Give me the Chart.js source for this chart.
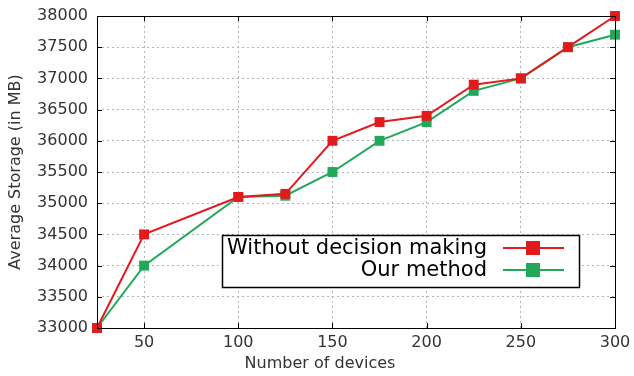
<!DOCTYPE html>
<html>
<head>
<meta charset="utf-8">
<script src="https://cdn.jsdelivr.net/npm/chart.js@4/dist/chart.umd.min.js"></script>
<style>
  html, body { margin: 0; padding: 0; background: #fff; }
  #wrap { width: 634px; height: 376px; position: relative; }
</style>
</head>
<body>
<div id="wrap"><canvas id="c" width="634" height="376"></canvas></div>
<script>
// Number of devices on the x axis
const devices = [25, 50, 100, 125, 150, 175, 200, 225, 250, 275, 300];
// Average storage (MB) per approach
const withoutDecision = [33000, 34500, 35100, 35150, 36000, 36300, 36400, 36900, 37000, 37500, 38000];
const ourMethod = [33000, 34000, 35100, 35120, 35500, 36000, 36300, 36800, 37000, 37500, 37700];
// Tick values
const xTicks = [50, 100, 150, 200, 250, 300];
const yTicks = [33000, 33500, 34000, 34500, 35000, 35500, 36000, 36500, 37000, 37500, 38000];

const seriesNames = ['Without decision making', 'Our method'];
const xTitle = 'Number of devices';
const yTitle = 'Average Storage (in MB)';
const RED = '#e31a1c';
const GREEN = '#22a85a';
const FONT = 'DejaVu Sans';

function toPoints(xs, ys) { return xs.map((x, i) => ({ x: x, y: ys[i] })); }

// Border box, inward tick marks, x title and boxed legend in gnuplot style
const frame = {
  id: 'frame',
  afterDraw(chart) {
    const ctx = chart.ctx;
    const a = chart.chartArea;
    const xs = chart.scales.x, ys = chart.scales.y;
    ctx.save();
    ctx.strokeStyle = '#000';
    ctx.lineWidth = 1;
    ctx.strokeRect(Math.round(a.left) + 0.5, Math.round(a.top) + 0.5,
                   Math.round(a.right - a.left), Math.round(a.bottom - a.top));
    const tl = 5;
    ctx.beginPath();
    xTicks.forEach(v => {
      const px = Math.round(xs.getPixelForValue(v)) + 0.5;
      ctx.moveTo(px, a.bottom); ctx.lineTo(px, a.bottom - tl);
      ctx.moveTo(px, a.top); ctx.lineTo(px, a.top + tl);
    });
    yTicks.forEach(v => {
      const py = Math.round(ys.getPixelForValue(v)) + 0.5;
      ctx.moveTo(a.left, py); ctx.lineTo(a.left + tl, py);
      ctx.moveTo(a.right, py); ctx.lineTo(a.right - tl, py);
    });
    ctx.stroke();

    // x axis title, centred on the page width
    ctx.font = '16px "' + FONT + '"';
    ctx.fillStyle = '#333';
    ctx.textAlign = 'center';
    ctx.textBaseline = 'middle';
    ctx.fillText(xTitle, chart.width / 2 + 3, 364);

    // legend box
    const bx = 222, by = 235, bw = 357, bh = 52;
    ctx.fillStyle = '#fff';
    ctx.fillRect(bx, by, bw, bh);
    ctx.strokeStyle = '#000';
    ctx.lineWidth = 1.5;
    ctx.strokeRect(bx + 0.5, by + 0.5, bw, bh);
    const colors = [RED, GREEN];
    const rows = [by + 13, by + 35];
    ctx.font = '21px "' + FONT + '"';
    ctx.textAlign = 'right';
    ctx.textBaseline = 'middle';
    seriesNames.forEach((name, i) => {
      const y = rows[i];
      ctx.fillStyle = '#000';
      ctx.fillText(name, bx + 265, y + 1);
      ctx.strokeStyle = colors[i];
      ctx.lineWidth = 2;
      ctx.beginPath();
      ctx.moveTo(bx + 281, y); ctx.lineTo(bx + 342, y);
      ctx.stroke();
      ctx.fillStyle = colors[i];
      ctx.fillRect(bx + 311 - 7, y - 7, 14, 14);
    });
    ctx.restore();
  }
};

const gridStyle = { color: '#b4b4b4', drawTicks: false, lineWidth: 1 };
const borderStyle = { display: false, dash: [2, 3] };

new Chart(document.getElementById('c'), {
  type: 'line',
  data: {
    datasets: [
      {
        label: seriesNames[0],
        data: toPoints(devices, withoutDecision),
        borderColor: RED, backgroundColor: RED,
        borderWidth: 2, pointStyle: 'rect', pointRadius: 7,
        pointBorderWidth: 0, tension: 0, clip: false
      },
      {
        label: seriesNames[1],
        data: toPoints(devices, ourMethod),
        borderColor: GREEN, backgroundColor: GREEN,
        borderWidth: 2, pointStyle: 'rect', pointRadius: 7,
        pointBorderWidth: 0, tension: 0, clip: false
      }
    ]
  },
  options: {
    responsive: false,
    animation: false,
    events: [],
    layout: { padding: { left: 0, right: 19, top: 16, bottom: 0 } },
    plugins: { legend: { display: false }, tooltip: { enabled: false } },
    scales: {
      x: {
        type: 'linear',
        min: 25, max: 300,
        afterBuildTicks(s) { s.ticks = xTicks.map(v => ({ value: v })); },
        afterFit(s) { s.height = 48; s.paddingLeft = 0; s.paddingRight = 0; },
        border: borderStyle,
        grid: gridStyle,
        ticks: { color: '#333', font: { family: FONT, size: 16 }, padding: 5, maxRotation: 0,
                 callback: v => String(v) },
        title: { display: false }
      },
      y: {
        min: 33000, max: 38000,
        afterBuildTicks(s) { s.ticks = yTicks.map(v => ({ value: v })); },
        afterFit(s) { s.width = 97; s.paddingTop = 0; s.paddingBottom = 0; },
        border: borderStyle,
        grid: gridStyle,
        ticks: { color: '#333', font: { family: FONT, size: 16 }, padding: 9,
                 callback: v => String(v) },
        title: { display: true, text: yTitle, color: '#333',
                 font: { family: FONT, size: 16 }, padding: { top: 6, bottom: 0 } }
      }
    }
  },
  plugins: [frame]
});
</script>
</body>
</html>
